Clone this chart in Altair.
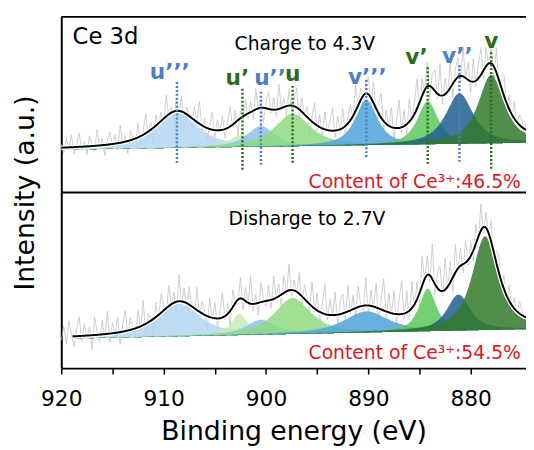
import altair as alt
import numpy as np
import pandas as pd

FONT = "DejaVu Sans"

# ---------------- data ----------------
peak_names = ["u’’’", "u’", "u’’", "u", "v’’’", "v’", "v’’", "v"]
peak_colors = ["#b3d7f2", "#c3ecb2", "#8fc2ea", "#8edb82", "#4fa3dc", "#5cc95a", "#1f5e8e", "#337a2c"]
label_colors = ["#4c7fc3", "#2e6b1c", "#4c7fc3", "#2e6b1c", "#4c7fc3", "#2e6b1c", "#4c7fc3", "#2e6b1c"]

# Charge to 4.3V (upper panel), intensity in a.u.
top_centers = [908.7, 902.3, 900.5, 897.4, 890.2, 884.2, 881.1, 878.0]
top_heights = [19.7, 7.0, 11.8, 18.5, 25.8, 24.5, 28.7, 39.0]
top_fwhm = [5.0, 3.0, 3.2, 4.2, 2.6, 2.4, 3.2, 3.0]
top_base = [124.4, 128.3]          # background at 920 eV and at 874.6 eV
top_start = 920.0

# Disharge to 2.7V (lower panel)
bot_centers = [908.5, 902.6, 900.5, 897.4, 890.2, 884.2, 881.2, 878.6]
bot_heights = [18.5, 12.0, 8.5, 20.5, 12.0, 24.2, 20.5, 53.4]
bot_fwhm = [5.0, 1.9, 3.5, 4.2, 5.2, 2.0, 2.7, 3.0]
bot_base = [16.7, 22.2]
bot_start = 918.9

# raw-data scatter around the fit (a.u.), one value per 0.25 eV from 920 eV
top_noise = [2,-3,5,-1,7,-4,1,8,-2,3,-5,6,0,-3,9,-1,4,-6,2,7,
             -2,5,-4,10,0,3,-7,5,1,-2,8,-5,2,11,-3,4,-8,6,-1,5,
             -4,12,-1,3,-6,7,-2,9,-11,4,1,-5,8,0,13,-3,5,-7,2,10,
             -4,6,-1,8,-5,3,11,-2,7,-9,4,0,9,-3,6,-5,12,-1,5,-8,
             3,10,-2,7,-4,14,0,5,-6,9,-2,4,11,-5,8,-1,6,-10,3,12,
             -3,7,-5,10,-1,5,13,-4,8,-2,11,-6,4,9,-3,15,-1,7,-8,5,
             10,-4,12,-2,6,14,-5,8,-1,11,-7,4,16,-3,9,-6,13,-2,7,17,
             -4,10,-1,14,-7,8,12,-3,18,-5,9,-2,15,-8,6,11,-4,17,-1,10,
             -6,13,-3,8,15,-5,11,-2,9,-7,14,-4,7,12,-3,8,-5,10,-2,6,
             4,-3,7]
bot_noise = [-2,6,-4,9,1,-6,4,11,-3,7,-1,5,-8,10,2,-4,8,-2,13,-5,
             6,-1,9,-7,4,12,-3,7,0,-5,10,-2,14,-6,5,1,-9,8,-3,11,
             3,-4,12,-1,6,-7,15,-2,8,-4,10,0,-6,13,-3,7,2,-8,11,-1,
             9,-5,4,14,-2,6,-9,10,1,-3,12,-6,8,-1,16,-4,5,-7,11,2,
             -3,9,-5,13,0,7,-8,10,-2,15,-4,6,-1,12,-6,8,3,-5,14,-2,
             10,-7,5,17,-3,9,-1,13,-5,7,11,-4,15,-2,8,-6,12,1,-3,16,
             -5,9,-2,14,-8,6,18,-4,11,-1,13,-6,8,19,-3,12,-5,15,-2,10,
             -7,17,-1,11,-4,20,-6,9,14,-3,18,-2,12,-8,16,-1,10,-5,13,-3,
             8,-6,11,-2,15,-4,9,-1,12,-5,7,10,-3,8,-6,9,-2,6,-4,7,
             3,-2,5]

# marker lines (upper panel): energy, top, bottom (a.u.)
mark_E = [908.7, 902.3, 900.5, 897.4, 890.2, 884.2, 881.1, 878.0]
mark_top = [162.9, 159.0, 157.3, 160.7, 164.0, 171.3, 172.5, 179.8]
mark_bot = [116.3, 111.8, 114.6, 116.3, 119.7, 116.3, 116.3, 112.4]
# peak labels: energy, intensity
lab_E = [909.4, 902.8, 899.6, 897.4, 890.1, 885.3, 881.3, 878.0]
lab_I = [168.5, 165.2, 165.2, 167.4, 165.7, 177.0, 177.8, 186.2]

x_ticks = [920, 915, 910, 905, 900, 895, 890, 885, 880]
E_MIN, E_MAX = 874.6, 920.0

# ---------------- build tables ----------------
def profile(E, c, h, w, eta=0.8):
    d = (E - c) / w
    return h * (eta / (1 + 4 * d ** 2) + (1 - eta) * np.exp(-4 * np.log(2) * d ** 2))

def background(E, b):
    return b[0] + (b[1] - b[0]) * (E_MAX - E) / (E_MAX - E_MIN)

panels = [
    ("top", top_centers, top_heights, top_fwhm, top_base, top_start, top_noise),
    ("bottom", bot_centers, bot_heights, bot_fwhm, bot_base, bot_start, bot_noise),
]

peak_rows, env_rows, noise_rows = [], [], []
for name, cs, hs, ws, base, start, noise in panels:
    grid = np.round(np.arange(start, E_MIN - 0.05, -0.1), 2)
    bg = background(grid, base)
    tot = np.zeros_like(grid)
    for k in range(len(cs)):
        p = profile(grid, cs[k], hs[k], ws[k])
        tot += p
        for e, lo, hi in zip(grid, bg, bg + p):
            peak_rows.append({"panel": name, "peak": k, "E": float(e), "lo": float(lo), "hi": float(hi)})
    for e, v in zip(grid, bg + tot):
        env_rows.append({"panel": name, "E": float(e), "I": float(v)})
    En = np.array([920.0 - 0.25 * i for i in range(len(noise))])
    fit = background(En, base) + sum(profile(En, cs[k], hs[k], ws[k]) for k in range(len(cs)))
    for e, f, o in zip(En, fit, noise):
        noise_rows.append({"panel": name, "E": float(e), "I": float(f + o)})

peaks_df = pd.DataFrame(peak_rows)
env_df = pd.DataFrame(env_rows)
noise_df = pd.DataFrame(noise_rows)
marks_df = pd.DataFrame({"E": mark_E, "top": mark_top, "bot": mark_bot, "name": peak_names})
labs_df = pd.DataFrame({"E": lab_E, "I": lab_I, "name": peak_names})

# ---------------- encodings ----------------
xscale = alt.Scale(domain=[E_MIN, E_MAX], reverse=True, nice=False, zero=False)
yscale = alt.Scale(domain=[0, 200], nice=False, zero=False)
xaxis = alt.Axis(values=x_ticks, labelExpr="datum.value % 10 == 0 ? datum.label : ''",
                 grid=False, tickSize=6, tickWidth=1.5, tickColor="black",
                 domainColor="black", domainWidth=2, labelFlush=False,
                 labelFont=FONT, labelFontSize=22, labelColor="black", labelPadding=15,
                 title="Binding energy (eV)", titleFont=FONT, titleFontSize=27,
                 titleFontWeight="normal", titleColor="black", titlePadding=9)
yaxis = alt.Axis(labels=False, ticks=False, grid=False, domainColor="black", domainWidth=2,
                 title="Intensity (a.u.)", titleFont=FONT, titleFontSize=27,
                 titleFontWeight="normal", titleColor="black", titlePadding=22)

def X(field="E"):
    return alt.X(f"{field}:Q", scale=xscale, axis=xaxis)

def Y(field="I"):
    return alt.Y(f"{field}:Q", scale=yscale, axis=yaxis)

name_color = alt.Color("name:N", scale=alt.Scale(domain=peak_names, range=label_colors), legend=None)

layers = []
layers.append(alt.Chart(noise_df).mark_line(color="#c4c4c4", strokeWidth=0.8, clip=True)
              .encode(x=X(), y=Y(), detail="panel:N"))
for k in range(len(peak_names)):
    layers.append(alt.Chart(peaks_df[peaks_df["peak"] == k]).mark_area(
        color=peak_colors[k], opacity=0.85, clip=True)
        .encode(x=X(), y=Y("hi"), y2="lo:Q", detail="panel:N"))
layers.append(alt.Chart(env_df).mark_line(color="white", strokeWidth=4.5, clip=True)
              .encode(x=X(), y=Y(), detail="panel:N"))
layers.append(alt.Chart(env_df).mark_line(color="black", strokeWidth=2, clip=True)
              .encode(x=X(), y=Y(), detail="panel:N"))

# frame: top border and panel divider
frame_df = pd.DataFrame({"E1": [E_MAX, E_MAX], "E2": [E_MIN, E_MIN], "I": [200, 100]})
layers.append(alt.Chart(frame_df).mark_rule(color="black", strokeWidth=2)
              .encode(x=X("E1"), x2="E2:Q", y=Y()))

layers.append(alt.Chart(marks_df).mark_rule(strokeDash=[2, 2], strokeWidth=2.5)
              .encode(x=X(), y=Y("top"), y2="bot:Q", color=name_color))
layers.append(alt.Chart(labs_df).mark_text(font=FONT, fontSize=22, fontWeight="bold", baseline="middle")
              .encode(x=X(), y=Y(), text="name:N", color=name_color))

texts = [
    ("Ce 3d", 918.9, 188.2, "left", 23, "black"),
    ("Charge to 4.3V", 896.2, 184.4, "center", 19, "black"),
    ("Disharge to 2.7V", 896.0, 84.7, "center", 19, "black"),
    ("Content of Ce³⁺:46.5%", 875.1, 105.8, "right", 19, "#e0191e"),
    ("Content of Ce³⁺:54.5%", 875.1, 8.4, "right", 19, "#e0191e"),
]
for t, e, i, al, fs, col in texts:
    df = pd.DataFrame({"E": [e], "I": [i], "t": [t]})
    layers.append(alt.Chart(df).mark_text(font=FONT, fontSize=fs, align=al, baseline="middle", color=col)
                  .encode(x=X(), y=Y(), text="t:N"))

chart = alt.layer(*layers).properties(
    width=471, height=356,
    autosize=alt.AutoSizeParams(type="none"),
    padding={"left": 54, "top": 6, "right": 0, "bottom": 80},
).configure_view(stroke=None).configure(background="white")

chart.save("out.html", embed_options={"renderer": "svg", "actions": False})
